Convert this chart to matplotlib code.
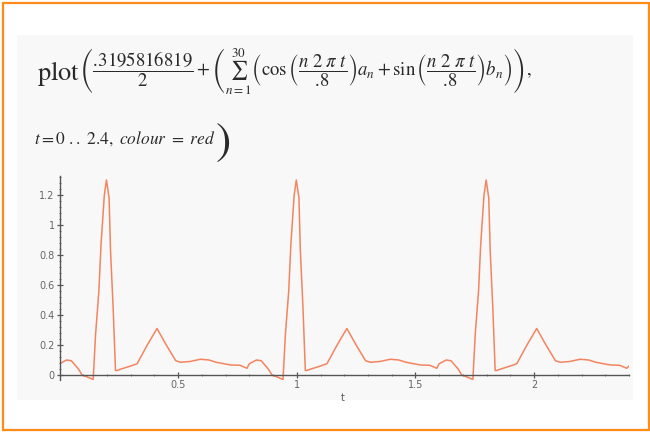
import numpy as np
import matplotlib.pyplot as plt
from matplotlib.patches import Rectangle
from matplotlib.ticker import MultipleLocator, FixedLocator

# one period (0.8) of the plotted Fourier sum
period = 0.8
t_period = [0.00, 0.03, 0.05, 0.08, 0.095, 0.12, 0.142, 0.152, 0.166, 0.175,
            0.189, 0.198, 0.209, 0.215, 0.226, 0.236, 0.242, 0.26, 0.30, 0.327,
            0.37, 0.411, 0.45, 0.49, 0.51, 0.55, 0.594, 0.63, 0.66, 0.72,
            0.76, 0.79]
y_period = [0.075, 0.10, 0.095, 0.04, 0.0, -0.015, -0.03, 0.27, 0.56, 0.87,
            1.20, 1.30, 1.18, 0.83, 0.45, 0.03, 0.03, 0.04, 0.06, 0.075,
            0.20, 0.31, 0.20, 0.095, 0.085, 0.09, 0.105, 0.10, 0.085, 0.067,
            0.065, 0.045]
n_periods = 3
t_end = 2.4
y_end = 0.06

x_ticks = [0.5, 1, 1.5, 2]
x_tick_labels = ["0.5", "1", "1.5", "2"]
y_ticks = [0, 0.2, 0.4, 0.6, 0.8, 1, 1.2]
y_tick_labels = ["0", "0.2", "0.4", "0.6", "0.8", "1", "1.2"]

t = np.concatenate([np.array(t_period) + k * period for k in range(n_periods)] + [[t_end]])
y = np.concatenate([y_period] * n_periods + [[y_end]])

W, H = 650, 432
fig = plt.figure(figsize=(6.5, 4.32), dpi=100)
fig.patch.set_facecolor("white")

# light panel behind the maple output and the orange frame
fig.patches.append(Rectangle((17 / W, 1 - 400 / H), 616 / W, 365 / H,
                             transform=fig.transFigure, facecolor="#f8f8f8",
                             edgecolor="none", zorder=0))
fig.patches.append(Rectangle((2.5 / W, 1 - 430 / H), 646 / W, 427 / H,
                             transform=fig.transFigure, facecolor="none",
                             edgecolor="#ff8c1a", lw=1.6, zorder=5))

plt.rcParams["mathtext.fontset"] = "stix"
txt = "#2a2a2a"
line1 = (r"$\left(\dfrac{.\!3195816819}{2}+\left(\sum_{n=1}^{30}"
         r"\left(\cos\left(\dfrac{n\ 2\ \pi\ t}{.\!8}\right)a_n+"
         r"\sin\left(\dfrac{n\ 2\ \pi\ t}{.\!8}\right)b_n\right)\right),\right.$")
line2 = r"$t=0\ ..\ 2.4,\ colour\ =\ red$"
fig.text(37 / W, 1 - 74 / H, r"$\mathrm{plot}$", fontsize=19, va="center", ha="left", color=txt)
fig.text(79 / W, 1 - 71 / H, line1, fontsize=13.5, va="center", ha="left", color=txt)
fig.text(34 / W, 1 - 139 / H, line2, fontsize=12.5, va="center", ha="left", color=txt)
fig.text(216 / W, 1 - 143 / H, ")", fontsize=33, va="center", ha="left", color=txt,
         family="STIXGeneral")

x0, x1 = 59.5, 629
ylo, yhi = -0.03, 1.33
y_zero_px, px_per_unit = 375, 150
bottom_px = y_zero_px - ylo * px_per_unit
top_px = y_zero_px - yhi * px_per_unit
ax = fig.add_axes([x0 / W, 1 - bottom_px / H, (x1 - x0) / W, (bottom_px - top_px) / H])
ax.set_zorder(3)
ax.patch.set_alpha(0)

ax.plot(t, y, color="#f4845f", lw=1.1)
ax.set_xlim(0, t_end)
ax.set_ylim(ylo, yhi)

for s in ["top", "right"]:
    ax.spines[s].set_visible(False)
ax.spines["left"].set_position(("data", 0))
ax.spines["bottom"].set_position(("data", 0))
for s in ["left", "bottom"]:
    ax.spines[s].set_color("#555555")
    ax.spines[s].set_linewidth(1.0)

ax.xaxis.set_major_locator(FixedLocator(x_ticks))
ax.set_xticklabels(x_tick_labels)
ax.xaxis.set_minor_locator(MultipleLocator(0.1))
ax.yaxis.set_major_locator(FixedLocator(y_ticks))
ax.set_yticklabels(y_tick_labels)
ax.yaxis.set_minor_locator(MultipleLocator(0.04))

ax.tick_params(axis="both", which="major", length=4, width=0.9, color="#555555",
               labelsize=7, labelcolor="#666666", pad=1.5, direction="inout")
ax.tick_params(axis="both", which="minor", length=2, width=0.7, color="#777777",
               direction="inout")

fig.text(343 / W, 1 - 398 / H, "t", fontsize=7, color="#555555", ha="center", va="center")

fig.savefig("out.png", dpi=100)
